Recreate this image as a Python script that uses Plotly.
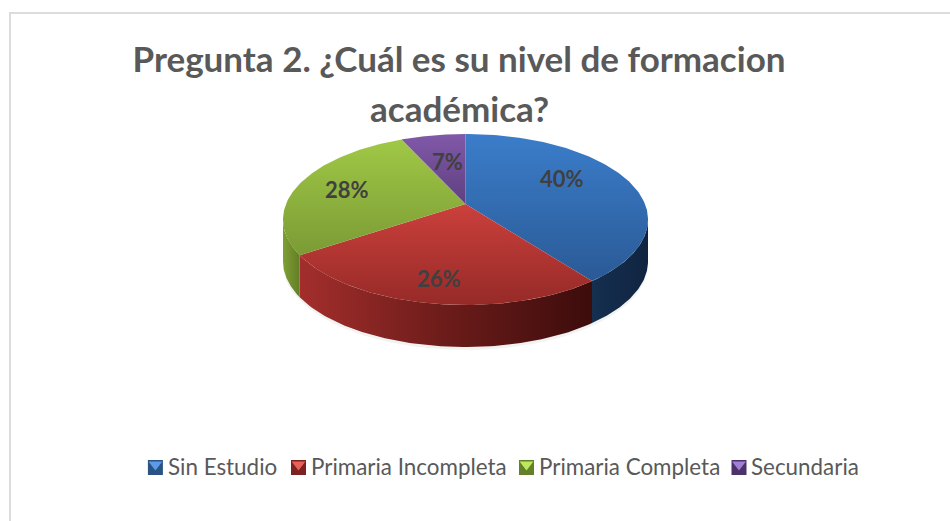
"""3D-style pie of education level, built from the slice shares."""

import numpy as np
import plotly.graph_objects as go

categories = ["Sin Estudio", "Primaria Incompleta", "Primaria Completa", "Secundaria"]
shares = [39.7, 25.9, 27.6, 6.8]
top_colors = [
    ["#3b7dca", "#2a5a96"],
    ["#cb403c", "#962a27"],
    ["#a0c846", "#7b9b35"],
    ["#8059a8", "#5f3f80"],
]
wall_colors = [
    ["#152f50", "#102440"],
    ["#a32e2c", "#6c1c1a", "#3c0c0b"],
    ["#7f9f34", "#627e26"],
    ["#5f3f80", "#5f3f80"],
]
swatch_light = ["#5b9bea", "#e8605a", "#bce85e", "#a27fd6"]
swatch_dark = ["#2a5283", "#7c2220", "#64802a", "#4c3268"]

# pixel geometry of the tilted pie
CX, APEX_Y, TOP_Y, BOTTOM_Y = 465.5, 204.0, 134.0, 305.0
RX = 182.5
DEPTH = 42
LABEL_R = 0.6
label_nudge = [(-2, -10), (-7, 20), (-18, -1), (3, 1)]
LEGEND_Y = 467.5
swatch_x = [155.4, 298.5, 526.5, 739]
legend_text_x = [166, 309, 537, 748.5]

# perspective: circle points map to screen so the centre lands on the apex
C = ((APEX_Y * 2) - TOP_Y - BOTTOM_Y) / (TOP_Y - BOTTOM_Y)
A = TOP_Y * (1 + C) - APEX_Y
R = RX * np.sqrt(1 - C**2)


def project(theta, r=1.0):
    u = r * np.sin(theta)
    v = r * np.cos(theta)
    den = 1 + C * v
    return CX + R * u / den, (A * v + APEX_Y) / den


def stops(colors):
    return [[i / (len(colors) - 1), c] for i, c in enumerate(colors)]


edges = np.radians(np.cumsum([0] + shares) / sum(shares) * 360)
front_start = np.arccos(-C)
front_end = 2 * np.pi - front_start

fig = go.Figure()

# soft shadow under the pie
t = np.linspace(front_start, front_end, 120)
sx, sy = project(t)
fig.add_trace(go.Scatter(
    x=np.r_[sx, sx[::-1]], y=np.r_[sy + DEPTH + 3, sy[::-1]],
    mode="lines", fill="toself", fillcolor="rgba(0,0,0,0.05)",
    line=dict(width=0), hoverinfo="skip",
))

# side walls
for i in range(len(shares)):
    a = max(edges[i], front_start)
    b = min(edges[i + 1], front_end)
    if b <= a:
        continue
    t = np.linspace(a, b, 80)
    wx, wy = project(t)
    fig.add_trace(go.Scatter(
        x=np.r_[wx, wx[::-1]], y=np.r_[wy, wy[::-1] + DEPTH],
        mode="lines", fill="toself", line=dict(width=0), hoverinfo="skip",
        fillgradient=dict(type="horizontal", colorscale=stops(wall_colors[i])),
    ))

# top faces
for i, name in enumerate(categories):
    t = np.linspace(edges[i], edges[i + 1], 120)
    ex, ey = project(t)
    fig.add_trace(go.Scatter(
        x=np.r_[CX, ex, CX], y=np.r_[APEX_Y, ey, APEX_Y],
        mode="lines", fill="toself", line=dict(width=0), name=name,
        fillgradient=dict(type="vertical", colorscale=stops(top_colors[i][::-1])),
    ))

# legend swatches: dark square with a light bevel on top
fig.add_trace(go.Scatter(
    x=swatch_x, y=[LEGEND_Y] * 4, mode="markers", hoverinfo="skip",
    marker=dict(symbol="square", size=15, color=swatch_dark, line=dict(width=0)),
))
fig.add_trace(go.Scatter(
    x=swatch_x, y=[LEGEND_Y - 3] * 4, mode="markers", hoverinfo="skip",
    marker=dict(symbol="triangle-down", size=12, color=swatch_light, line=dict(width=0)),
))

fig.update_traces(showlegend=False)

# chart frame, its right and bottom edges fall outside the picture
fig.add_shape(type="rect", x0=10, y0=13, x1=965, y1=540,
              line=dict(color="#dcdcdc", width=2), layer="below")

# data labels
for i, share in enumerate(shares):
    mid = (edges[i] + edges[i + 1]) / 2
    lx, ly = project(mid, LABEL_R)
    fig.add_annotation(
        x=lx + label_nudge[i][0], y=ly + label_nudge[i][1],
        text=f"<b>{round(share)}%</b>", showarrow=False,
        font=dict(family="Lato", size=22, color="#404040"),
    )

for name, tx in zip(categories, legend_text_x):
    fig.add_annotation(
        x=tx, y=LEGEND_Y - 1, text=name, showarrow=False, xanchor="left",
        font=dict(family="Lato", size=22.4, color="#595959"),
    )

# second title line, spaced wider than a plain line break allows
fig.add_annotation(
    x=459, y=108, text="<b>académica?</b>", showarrow=False,
    font=dict(family="Lato", size=35, color="#595959"),
)

fig.update_layout(
    width=950, height=521,
    margin=dict(l=0, r=0, t=0, b=0),
    paper_bgcolor="white", plot_bgcolor="white",
    showlegend=False,
    title=dict(
        text="<b>Pregunta 2. ¿Cuál es su nivel de formacion</b>",
        x=459 / 950, xanchor="center", y=1 - 60 / 521, yanchor="middle",
        font=dict(family="Lato", size=35, color="#595959"),
    ),
    xaxis=dict(range=[0, 950], visible=False, fixedrange=True),
    yaxis=dict(range=[521, 0], visible=False, fixedrange=True),
)

fig.write_html(
    "out.html",
    config=dict(displayModeBar=False),
    post_script="document.body.style.margin='0';",
)
